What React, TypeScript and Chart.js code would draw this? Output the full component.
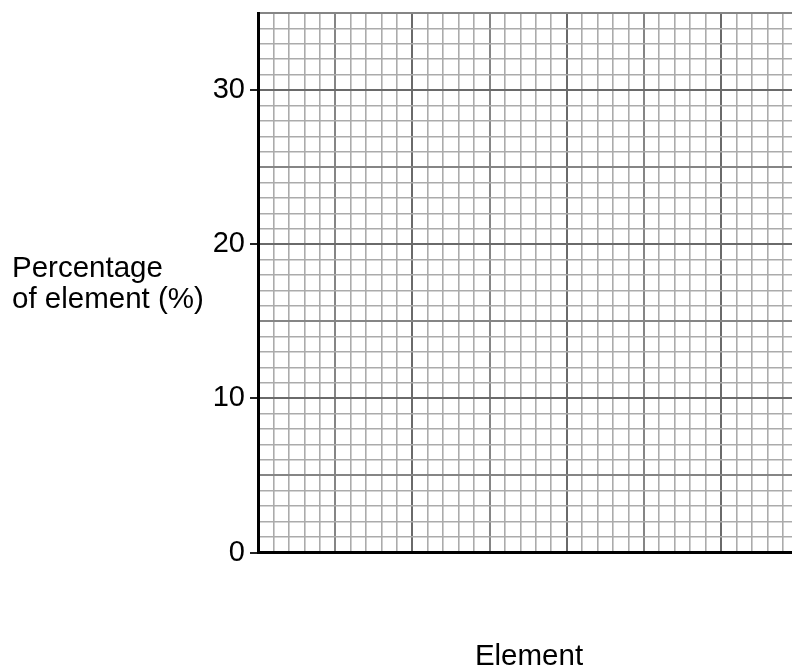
import React, { useEffect, useRef } from "react";
import { Chart, registerables } from "chart.js";

Chart.register(...registerables);

// Data (blank graph grid: no series plotted)
const elements: string[] = [];
const percentages: number[] = [];
const yTickLabels = [0, 10, 20, 30];
const yTitleLines = ["Percentage", "of element (%)"];
const xTitle = "Element";

const FONT = "'Liberation Sans', Arial, sans-serif";

function gridColor(v: number) {
  if (Math.abs(v % 10) < 1e-6) return "#6a6a6a";
  if (Math.abs(v % 5) < 1e-6) return "#858585";
  return "#ababab";
}
function gridWidth(v: number) {
  if (Math.abs(v % 5) < 1e-6) return 2;
  return 1.6;
}

const titlesPlugin = {
  id: "titles",
  afterDraw(chart: any) {
    const ctx = chart.ctx;
    const area = chart.chartArea;
    ctx.save();
    ctx.fillStyle = "#000";
    ctx.font = `29.5px ${FONT}`;
    ctx.textAlign = "left";
    ctx.textBaseline = "alphabetic";
    ctx.fillText(yTitleLines[0], 12, 277);
    ctx.fillText(yTitleLines[1], 12, 308);
    ctx.textAlign = "center";
    ctx.fillText(xTitle, (area.left + area.right) / 2 + 4, 665);
    ctx.restore();
  },
};

export default function App() {
  const ref = useRef<HTMLCanvasElement | null>(null);
  useEffect(() => {
    if (!ref.current) return;
    const chart = new Chart(ref.current, {
      type: "scatter",
      data: {
        labels: elements,
        datasets: [
          {
            label: "Percentage",
            data: percentages.map((p, i) => ({ x: i, y: p })),
            showLine: false,
          },
        ],
      },
      options: {
        animation: false,
        responsive: false,
        maintainAspectRatio: false,
        layout: { padding: { left: 0, top: 13, right: 0, bottom: 114.5 } },
        plugins: {
          legend: { display: false },
          tooltip: { enabled: false },
        },
        scales: {
          x: {
            type: "linear",
            min: 0,
            max: 34.6,
            afterFit: (scale: any) => {
              scale.paddingLeft = 0;
              scale.paddingRight = 0;
            },
            border: { display: true, color: "#000", width: 3 },
            ticks: {
              display: false,
              stepSize: 1,
              includeBounds: false,
              autoSkip: false,
              maxTicksLimit: 1000,
            },
            grid: {
              drawTicks: false,
              color: (c: any) => gridColor(c.tick.value),
              lineWidth: (c: any) => gridWidth(c.tick.value),
            },
          },
          y: {
            type: "linear",
            min: 0,
            max: 35,
            afterFit: (scale: any) => {
              scale.width = 258;
              scale.paddingTop = 0;
              scale.paddingBottom = 0;
            },
            border: { display: true, color: "#000", width: 3 },
            ticks: {
              stepSize: 1,
              autoSkip: false,
              maxTicksLimit: 1000,
              padding: 5,
              color: "#000",
              font: { family: FONT, size: 29 },
              callback: (v: any) =>
                yTickLabels.includes(Number(v)) ? String(v) : "",
            },
            grid: {
              drawTicks: true,
              tickLength: 8,
              tickWidth: 2,
              tickColor: (c: any) =>
                yTickLabels.includes(c.tick.value) ? "#222" : "rgba(0,0,0,0)",
              color: (c: any) => gridColor(c.tick.value),
              lineWidth: (c: any) => gridWidth(c.tick.value),
            },
          },
        },
      },
      plugins: [titlesPlugin],
    } as any);
    return () => chart.destroy();
  }, []);
  return (
    <div style={{ position: "fixed", left: 0, top: 0, width: 792, height: 667, background: "#fff" }}>
      <canvas ref={ref} width={792} height={667} style={{ width: 792, height: 667, display: "block" }} />
    </div>
  );
}
